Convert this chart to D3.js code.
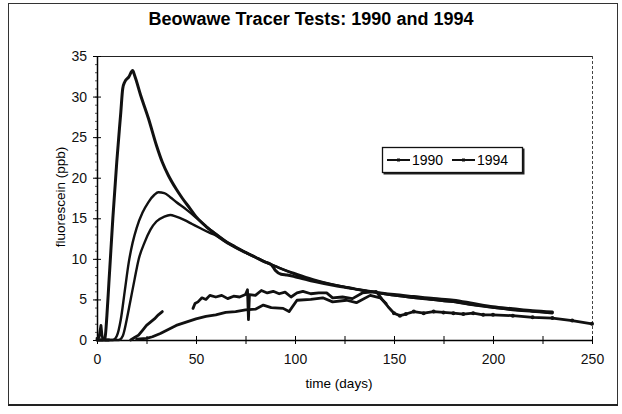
<!DOCTYPE html>
<html lang="en">
<head>
<script src='https://d3js.org/d3.v7.min.js'></script>
<title>Beowawe Tracer Tests</title>
<meta charset="UTF-8">
<style>
body{
	margin: 0;
	background: #fff;
	font-family: Arial, "Liberation Sans", sans-serif;
}
.series{
	fill: none;
	stroke: #111;
	stroke-linejoin: round;
	stroke-linecap: round;
}
.tick text{
	font-size: 14px;
	fill: #111;
}
</style>
</head>
<body>
<div id='svg'></div>

<script>

// ---- data ----
// 1994 test, measured (tall peak)
const days94 = [0, 3, 4, 5, 6, 7, 8, 10, 12, 13, 14, 16, 18, 19, 22, 26, 30, 33, 36, 40, 43, 47, 50, 55, 60, 65, 70, 75, 80, 85, 88, 90, 93, 96, 100, 110, 120, 130, 140, 150, 160, 170, 180, 190, 200, 210, 220, 230];
const ppb94  = [0, 0, 0.2, 3, 7, 11, 15, 22, 28, 31, 31.8, 32.4, 33.2, 32.6, 30.2, 27.3, 24.0, 21.9, 20.3, 18.6, 17.5, 16.2, 15.2, 14, 13, 12.1, 11.4, 10.8, 10.2, 9.6, 9.3, 8.6, 8.1, 8.0, 7.8, 7.2, 6.7, 6.3, 5.9, 5.6, 5.35, 5.1, 4.9, 4.5, 4.1, 3.85, 3.6, 3.45];

// curves peaking near 18 and 15 ppb
const daysA = [0, 8, 10, 12, 14, 16, 18, 20, 23, 26, 29, 31, 34, 37, 40, 45, 50, 55, 60, 65, 70, 75, 80, 85, 90, 95, 100, 110, 120, 130, 140, 150, 160, 170, 180, 190, 200, 210, 220, 230];
const ppbA  = [0, 0, 0.5, 2.5, 6, 9.5, 12, 13.8, 15.7, 17, 17.9, 18.2, 18.1, 17.6, 17.0, 16.1, 15.1, 14.0, 13.1, 12.2, 11.5, 10.8, 10.2, 9.6, 9.1, 8.6, 8.2, 7.4, 6.8, 6.3, 5.9, 5.5, 5.2, 4.95, 4.7, 4.3, 4.0, 3.7, 3.5, 3.3];

const daysB = [0, 11, 13, 15, 17, 19, 21, 24, 27, 30, 34, 37, 40, 44, 48, 52, 57, 60, 65, 70, 75, 80, 90, 100, 110, 120, 130, 140, 150, 160, 170, 180, 190, 200, 210, 220, 230];
const ppbB  = [0, 0, 0.5, 2.5, 5, 7.5, 9.9, 12, 13.6, 14.6, 15.2, 15.4, 15.2, 14.8, 14.3, 13.8, 13.2, 12.9, 12.1, 11.4, 10.8, 10.2, 9.1, 8.1, 7.3, 6.8, 6.3, 5.9, 5.5, 5.2, 4.95, 4.7, 4.35, 4.0, 3.75, 3.55, 3.35];

// 1990 test, measured (several pieces)
const days90a = [0, 1, 1.6, 2, 2.5, 3, 4, 6];
const ppb90a  = [0.2, 0.3, 1.2, 1.8, 0.6, 0.1, 0, 0];

const days90b = [17, 19, 21, 23, 25, 27, 29, 31, 33];
const ppb90b  = [0, 0.3, 0.6, 1.2, 1.8, 2.2, 2.6, 3.1, 3.5];

const days90c = [20, 25, 28, 32, 36, 40, 45, 50, 55, 60, 65, 70, 75, 80, 84, 88, 94, 97, 101, 108, 114, 119, 126, 131, 138, 143, 146];
const ppb90c  = [0.1, 0.2, 0.4, 0.8, 1.3, 1.8, 2.2, 2.6, 2.9, 3.1, 3.4, 3.5, 3.7, 3.8, 4.3, 4.0, 3.9, 3.5, 4.9, 5.0, 5.2, 4.7, 4.9, 4.6, 5.5, 5.2, 4.5];

const days90d = [48.5, 49.5, 51, 53, 55, 57, 60, 63, 66, 69, 72, 75, 76, 76.5, 77, 80, 83, 86, 89, 92, 95, 98, 101, 104, 108, 112, 116, 119, 124, 129, 134, 138, 141, 144, 147, 150, 153, 156, 160, 165, 170, 175, 180, 185, 190, 195, 200, 210, 220, 230, 240, 250];
const ppb90d  = [3.9, 4.5, 4.7, 5.2, 5.0, 5.5, 5.3, 5.5, 5.1, 5.4, 5.3, 5.6, 6.2, 2.5, 5.6, 5.5, 6.1, 5.8, 6.0, 5.7, 5.9, 5.3, 5.8, 6.0, 5.7, 5.8, 5.8, 5.2, 5.3, 5.1, 5.8, 5.9, 6.0, 5.0, 4.1, 3.3, 3.0, 3.2, 3.5, 3.3, 3.5, 3.4, 3.3, 3.2, 3.3, 3.1, 3.1, 3.0, 2.8, 2.7, 2.4, 2.0];

const xTicks = [0, 50, 100, 150, 200, 250];
const yTicks = [0, 5, 10, 15, 20, 25, 30, 35];
const legendNames = ["1990", "1994"];

// ---- layout ----
const width = 622;
const height = 414;
const plot = { left: 97, right: 592, top: 56, bottom: 340 };

const svg = d3.select('#svg')
	.append('svg')
	.attr('width', width)
	.attr('height', height);

// outer chart frame
svg.append('rect')
	.attr('x', 8.5).attr('y', 3.5)
	.attr('width', 609).attr('height', 401)
	.attr('fill', 'none')
	.attr('stroke', '#333')
	.attr('stroke-width', 1);
svg.append('line')
	.attr('x1', 8).attr('x2', 618)
	.attr('y1', 405).attr('y2', 405)
	.attr('stroke', '#222').attr('stroke-width', 2);

const x = d3.scaleLinear().domain([0, 250]).range([plot.left, plot.right]);
const y = d3.scaleLinear().domain([0, 35]).range([plot.bottom, plot.top]);

// plot area top + right border
svg.append('line')
	.attr('x1', plot.left).attr('x2', plot.right)
	.attr('y1', plot.top + 0.5).attr('y2', plot.top + 0.5)
	.attr('stroke', '#222');
svg.append('line')
	.attr('x1', plot.right + 0.5).attr('x2', plot.right + 0.5)
	.attr('y1', plot.top).attr('y2', plot.bottom)
	.attr('stroke', '#444')
	.attr('stroke-dasharray', '3,2');

// minor ticks on y (every 1 ppb), small
svg.append('g')
	.attr('transform', 'translate(' + plot.left + ',0)')
	.call(d3.axisLeft(y).ticks(35).tickSize(2).tickSizeInner(2).tickFormat(''))
	.call(g => g.select('.domain').remove())
	.selectAll('line').attr('stroke', '#555');

// y axis
const yAxis = svg.append('g')
	.attr('transform', 'translate(' + plot.left + ',0)')
	.call(d3.axisLeft(y).tickValues(yTicks).tickSize(4).tickPadding(6).tickSizeOuter(0));
yAxis.selectAll('.tick line').attr('x2', 4).attr('x1', -4);
yAxis.select('.domain').attr('stroke-width', 1.5);

// x axis, ticks every 25 days
const xAxis = svg.append('g')
	.attr('transform', 'translate(0,' + plot.bottom + ')')
	.call(d3.axisBottom(x).tickValues(d3.range(0, 251, 25)).tickSize(4).tickPadding(10).tickSizeOuter(0)
		.tickFormat(d => xTicks.includes(d) ? d : ''));
xAxis.selectAll('.tick line').attr('y1', -4).attr('y2', 4);
xAxis.select('.domain').attr('stroke-width', 1.5);

svg.selectAll('.tick text').style('font-family', 'Arial, "Liberation Sans", sans-serif');

// titles
svg.append('text')
	.attr('x', 311).attr('y', 25)
	.attr('text-anchor', 'middle')
	.style('font-size', '18px')
	.style('font-weight', 'bold')
	.text('Beowawe Tracer Tests: 1990 and 1994');

svg.append('text')
	.attr('x', 339).attr('y', 388)
	.attr('text-anchor', 'middle')
	.style('font-size', '13.5px')
	.text('time (days)');

svg.append('text')
	.attr('transform', 'translate(65,197) rotate(-90)')
	.attr('text-anchor', 'middle')
	.style('font-size', '13.5px')
	.text('fluorescein (ppb)');

// series
const line = d3.line().x(d => x(d[0])).y(d => y(d[1]));
const smooth = d3.line().curve(d3.curveMonotoneX).x(d => x(d[0])).y(d => y(d[1]));
const pairs = (a, b) => a.map((d, i) => [d, b[i]]);

const series = [
	{ data: pairs(daysB, ppbB), w: 2.4, gen: smooth },
	{ data: pairs(daysA, ppbA), w: 2.4, gen: smooth },
	{ data: pairs(days94, ppb94), w: 3, gen: smooth },
	{ data: pairs(days90a, ppb90a), w: 2.8, gen: line },
	{ data: pairs(days90b, ppb90b), w: 2.8, gen: line },
	{ data: pairs(days90c, ppb90c), w: 2.8, gen: line },
	{ data: pairs(days90d, ppb90d), w: 2.8, gen: line }
];

svg.selectAll('.series')
	.data(series)
	.enter()
	.append('path')
	.attr('class', 'series')
	.attr('d', d => d.gen(d.data))
	.attr('stroke-width', d => d.w);

// small dot markers on 1990 tail
svg.append('g')
	.selectAll('circle')
	.data(pairs(days90d, ppb90d).filter(d => d[0] >= 150))
	.enter()
	.append('circle')
	.attr('cx', d => x(d[0]))
	.attr('cy', d => y(d[1]))
	.attr('r', 2)
	.attr('fill', '#111');

// legend
const legend = svg.append('g').attr('transform', 'translate(382,147)');
legend.append('rect')
	.attr('x', 1.5).attr('y', 1.5)
	.attr('width', 141).attr('height', 26)
	.attr('fill', '#222');
legend.append('rect')
	.attr('x', 0.5).attr('y', 0.5)
	.attr('width', 140).attr('height', 25)
	.attr('fill', '#fff')
	.attr('stroke', '#111')
	.attr('stroke-width', 1.3);

const legX = [5, 70];
legendNames.forEach((name, i) => {
	legend.append('line')
		.attr('x1', legX[i]).attr('x2', legX[i] + 23)
		.attr('y1', 13).attr('y2', 13)
		.attr('stroke', '#111').attr('stroke-width', 2);
	legend.append('rect')
		.attr('x', legX[i] + 10).attr('y', 11.5)
		.attr('width', 3).attr('height', 3)
		.attr('fill', '#111');
	legend.append('text')
		.attr('x', legX[i] + 25).attr('y', 18)
		.style('font-size', '14px')
		.text(name);
});

</script>
</body>
</html>
